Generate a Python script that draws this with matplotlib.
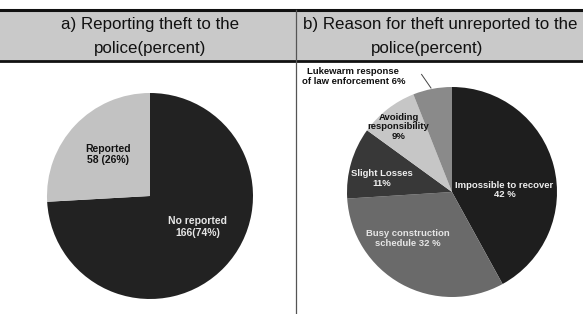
import matplotlib
matplotlib.use("Agg")
import matplotlib.pyplot as plt
from matplotlib.lines import Line2D
from matplotlib.patches import Rectangle

plt.rcParams['font.family'] = ['Liberation Sans', 'DejaVu Sans']

# a) reporting theft to the police
report_labels = ["No reported\n166(74%)", "Reported\n58 (26%)"]
report_counts = [166, 58]
report_colors = ["#222222", "#c2c2c2"]
report_text_colors = ["#e6e6e6", "#111111"]
report_text_pos = [(0.46, -0.30), (-0.41, 0.40)]

# b) reasons for theft unreported
reason_labels = ["Impossible to recover\n42 %", "Busy construction\nschedule 32 %",
                 "Slight Losses\n11%", "Avoiding\nresponsibility\n9%",
                 "Lukewarm response\nof law enforcement 6%"]
reason_values = [42, 32, 11, 9, 6]
reason_colors = ["#1e1e1e", "#6a6a6a", "#383838", "#c6c6c6", "#8a8a8a"]
reason_text_colors = ["#eeeeee", "#e6e6e6", "#eeeeee", "#111111", "#111111"]
reason_text_pos = [(0.50, 0.02), (-0.42, -0.44), (-0.67, 0.13), (-0.51, 0.62), (-0.94, 1.10)]

W, H = 583, 314
fig = plt.figure(figsize=(W / 100, H / 100), dpi=100)
fig.patch.set_facecolor("white")

# header band
fig.add_artist(Rectangle((0, 1 - 61 / H), 1, 51 / H, transform=fig.transFigure,
                         facecolor="#c9c9c9", edgecolor="none", zorder=0))
fig.add_artist(Line2D([0, 1], [1 - 10 / H] * 2, color="#111111", lw=2.2))
fig.add_artist(Line2D([0, 1], [1 - 61 / H] * 2, color="#111111", lw=2.0))
fig.add_artist(Line2D([296 / W] * 2, [0, 1 - 10 / H], color="#555555", lw=0.9))

hdr = dict(ha="center", va="center", fontsize=12.2, color="#111111")
fig.text(150 / W, 1 - 25 / H, "a) Reporting theft to the", **hdr)
fig.text(150 / W, 1 - 48 / H, "police(percent)", **hdr)
fig.text(440 / W, 1 - 25 / H, "b) Reason for theft unreported to the", **hdr)
fig.text(427 / W, 1 - 48 / H, "police(percent)", **hdr)


def pie_axes(cx, cy, r):
    ax = fig.add_axes([(cx - r) / W, (H - cy - r) / H, 2 * r / W, 2 * r / H])
    ax.set_xlim(-1, 1)
    ax.set_ylim(-1, 1)
    ax.set_aspect("equal")
    ax.axis("off")
    return ax


ax1 = pie_axes(150, 196, 103)
ax1.pie(report_counts, colors=report_colors, startangle=90, counterclock=False,
        radius=1, wedgeprops=dict(linewidth=0))
ax1.set_xlim(-1, 1)
ax1.set_ylim(-1, 1)
for lab, (x, y), c in zip(report_labels, report_text_pos, report_text_colors):
    ax1.text(x, y, lab, ha="center", va="center", fontsize=7.5, fontweight="bold",
             color=c, linespacing=1.15)

ax2 = pie_axes(452, 192, 105)
ax2.pie(reason_values, colors=reason_colors, startangle=90, counterclock=False,
        radius=1, wedgeprops=dict(linewidth=0))
ax2.set_xlim(-1, 1)
ax2.set_ylim(-1, 1)
for lab, (x, y), c in zip(reason_labels, reason_text_pos, reason_text_colors):
    ax2.text(x, y, lab, ha="center", va="center", fontsize=6.8, fontweight="bold",
             color=c, linespacing=1.1, clip_on=False)
# leader line for the small slice
ax2.plot([-0.29, -0.20], [1.12, 0.99], color="#444444", lw=0.7, clip_on=False)

fig.savefig("out.png", dpi=100)
